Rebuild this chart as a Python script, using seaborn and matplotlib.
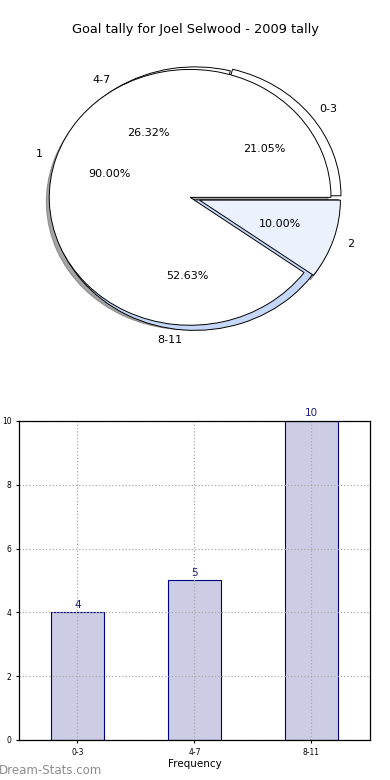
import matplotlib
matplotlib.use("Agg")
import matplotlib.pyplot as plt
import seaborn as sns
import pandas as pd

# ---- data ----
title = "Goal tally for Joel Selwood - 2009 tally"
range_labels = ["0-3", "4-7", "8-11"]
range_counts = [4, 5, 10]
goal_labels = ["1", "2"]
goal_share = [90, 10]

outer_colors = ["#ffffff", "#ffffff", "#c6d8fa"]
inner_colors = ["#ffffff", "#ebf1fd"]

plt.rcParams['font.family'] = ['DejaVu Sans']

fig = plt.figure(figsize=(3.9, 7.8), dpi=100)

# ---- pie ----
axp = fig.add_axes([0.036, 0.542, 0.903, 0.410])
wp = dict(edgecolor="black", linewidth=0.7)
axp.pie(range_counts, labels=range_labels, colors=outer_colors,
        explode=[0.02, 0.0, 0.02], autopct="%.2f%%", startangle=0,
        radius=1.02, center=(0.035, 0), pctdistance=0.6 / 1.02,
        labeldistance=1.1 / 1.02,
        counterclock=True, wedgeprops=wp, textprops=dict(fontsize=8))
axp.pie(goal_share, labels=goal_labels, colors=inner_colors,
        explode=[0, 0.07], autopct="%.2f%%", startangle=0,
        shadow=dict(ox=-0.015, oy=-0.025),
        wedgeprops=wp, textprops=dict(fontsize=8))
axp.set_aspect("auto")
axp.set_xlim(-1.25, 1.25)
axp.set_ylim(-1.25, 1.25)
fig.text(0.5, 1 - 30 / 780, title, ha="center", va="center", fontsize=9.3)

# ---- bars ----
df = pd.DataFrame({"range": range_labels, "count": range_counts})
axb = fig.add_axes([0.0487, 0.0513, 0.9, 0.409])
sns.barplot(data=df, x="range", y="count", ax=axb, color="#ccccE4",
            edgecolor="#000080", linewidth=0.8, width=0.45, saturation=1)
axb.set_ylim(0, 10)
axb.set_xlim(-0.5, 2.5)
axb.set_yticks([0, 2, 4, 6, 8, 10])
axb.tick_params(labelsize=5.5, length=2)
axb.grid(True, color="#aaaaaa", linestyle=":", linewidth=0.9)
axb.set_axisbelow("line")
for s in axb.spines.values():
    s.set_linewidth(0.9)
    s.set_color("black")
    s.set_zorder(3)
for i, v in enumerate(range_counts):
    axb.text(i, v + 0.08, str(v), ha="center", va="bottom", fontsize=7.5,
             color="#1a1a80")
axb.set_xlabel("Frequency", fontsize=7.5, labelpad=2)
axb.set_ylabel("Goal Tally", fontsize=7.5, labelpad=2)

fig.text(-0.004, 1 - 770 / 780, "Dream-Stats.com", ha="left", va="center",
         fontsize=8.5, color="#8c8c8c")

fig.savefig("out.png", dpi=100)
